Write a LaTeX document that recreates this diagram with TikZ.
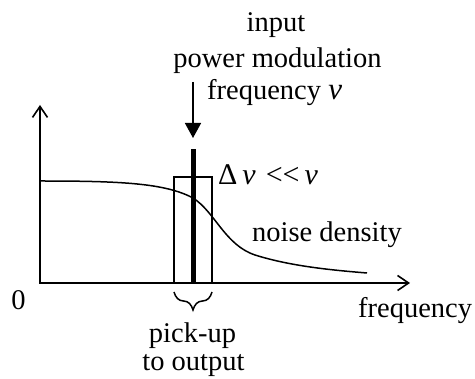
\documentclass[tikz,border=0pt]{standalone}
\usepackage{fontspec}
\setmainfont{Liberation Serif}
\usetikzlibrary{arrows.meta,decorations.pathreplacing}
\begin{document}
\begin{tikzpicture}[x=1pt,y=-1pt,
  lbl/.style={inner sep=0pt,font=\fontsize{28.5}{30}\selectfont},
  axis/.style={line width=2pt,-{Straight Barb[length=11pt,width=15pt,line width=1.6pt]}},
  thin/.style={line width=1.5pt},
  inarrow/.style={line width=1.6pt,-{Triangle[length=15pt,width=16pt]}}]
\useasboundingbox (0,0) rectangle (475,379);
% coordinates
\coordinate (O) at (40,283);
\coordinate (ytip) at (40,105);
\coordinate (xtip) at (410,283);
\coordinate (bl) at (174,283);
\coordinate (tr) at (212,177);
\coordinate (bartop) at (193,149);
\coordinate (barbot) at (193,283);
\coordinate (arrtop) at (193,82);
\coordinate (arrtip) at (193,138);
\coordinate (brl) at (174,292);
\coordinate (brr) at (212,292);
% curve
\draw[thin] (40,181) .. controls (120,181) and (165,183) .. (193,198)
  .. controls (215,212) and (225,245) .. (255,255)
  .. controls (290,266) and (330,270) .. (367,273);
% pick-up box
\draw[thin] (bl) rectangle (tr);
% signal bar
\draw[line width=5pt] (barbot) -- (bartop);
% input arrow
\draw[inarrow] (arrtop) -- (arrtip);
% axes
\draw[axis] (O) -- (ytip);
\draw[axis] ([xshift=-1pt]O) -- (xtip);
% brace
\draw[thin,decorate,decoration={brace,mirror,amplitude=18pt}] (brl) -- (brr);
% labels
\node[lbl,anchor=base] (t1) at (276,32) {input};
\node[lbl,anchor=base] (t2) at (277.5,68) {power modulation};
\node[lbl,anchor=base west] (t3) at (207,100) {frequency {\fontsize{31}{30}\selectfont\textit{ν}}};
\node[lbl,anchor=base west,font=\fontsize{30}{30}\selectfont] (dn) at (218,185) {Δ\,\textit{ν}\,\,{<}{<}\,\textit{ν}};
\node[lbl,anchor=base west] (nd) at (252,242) {noise density};
\node[lbl,anchor=base] (zero) at (18.5,310) {0};
\node[lbl,anchor=base west] (fq) at (358,318) {frequency};
\node[lbl,anchor=base] (pu) at (192.5,343) {pick-up};
\node[lbl,anchor=base] (to) at (193.5,371) {to output};
\end{tikzpicture}
\end{document}
